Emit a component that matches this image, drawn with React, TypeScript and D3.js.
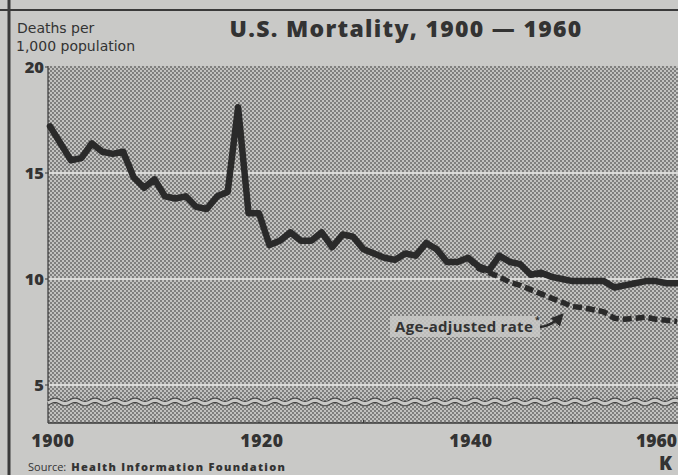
import React from 'react';
import * as d3 from 'd3';

const startYear = 1900;
const crudeRate = [
  17.2, 16.4, 15.6, 15.7, 16.4, 16.0, 15.9, 16.0, 14.8, 14.3,
  14.7, 13.9, 13.8, 13.9, 13.4, 13.3, 13.9, 14.1, 18.1, 13.1,
  13.1, 11.6, 11.8, 12.2, 11.8, 11.8, 12.2, 11.5, 12.1, 12.0,
  11.4, 11.2, 11.0, 10.9, 11.2, 11.1, 11.7, 11.4, 10.8, 10.8,
  11.0, 10.6, 10.4, 11.1, 10.8, 10.7, 10.2, 10.3, 10.1, 10.0,
  9.9, 9.9, 9.9, 9.9, 9.6, 9.7, 9.8, 9.9, 9.9, 9.8, 9.8,
];
const ageStartYear = 1940;
const ageAdjusted = [
  11.0, 10.5, 10.3, 10.1, 9.85, 9.7, 9.5, 9.3, 9.1, 8.9,
  8.7, 8.65, 8.55, 8.45, 8.15, 8.1, 8.15, 8.2, 8.1, 8.05, 8.0,
];
const yTickLabels = [20, 15, 10, 5];
const gridValues = [15, 10, 5];
const xTickLabels = [1900, 1920, 1940, 1960];
const minorXTicks = [1910, 1920, 1930, 1940, 1950];

const W = 678;
const H = 475;
const PAPER = '#c9c9c7';
const INK = '#2a2a2a';

export default function App() {
  const x = d3.scaleLinear().domain([1900, 1960]).range([50, 677]);
  const y = d3.scaleLinear().domain([5, 20]).range([385, 67]);
  const plotLeft = 48;
  const plotTop = y(20) - 1;
  const plotBottom = 423;
  const plotRight = W + 2;

  const crudePts: [number, number][] = crudeRate.map((v, i) => [startYear + i, v]);
  const agePts: [number, number][] = ageAdjusted.map((v, i) => [ageStartYear + i, v]);
  const line = d3
    .line<[number, number]>()
    .x((d) => x(d[0]))
    .y((d) => y(d[1]));

  // decorative axis-break wave
  const waveY = y(4.2);
  const wavePts = d3.range(plotLeft, plotRight + 1, 1);
  const wave = (off: number) =>
    d3
      .line<number>()
      .x((d) => d)
      .y((d) => waveY + off + 1.6 * Math.sin((d / 20) * 2 * Math.PI))(wavePts) as string;

  const fontSans = "'Open Sans', 'DejaVu Sans', sans-serif";
  const fontWide = "'DejaVu Sans', 'Open Sans', sans-serif";

  return (
    <svg
      width={W}
      height={H}
      style={{ position: 'absolute', left: 0, top: 0, background: PAPER }}
    >
      <defs>
        <pattern id="halftone" width="4" height="4" patternUnits="userSpaceOnUse">
          <rect width="4" height="4" fill="#c2c2c0" />
          <circle cx="1" cy="1" r="0.9" fill="#5e5e5e" />
          <circle cx="3" cy="3" r="0.9" fill="#5e5e5e" />
        </pattern>
        <marker id="arrowhead" viewBox="0 0 10 10" refX="8" refY="5" markerWidth="5" markerHeight="5" orient="auto">
          <path d="M0,0 L10,5 L0,10 z" fill={INK} />
        </marker>
      </defs>

      <rect width={W} height={H} fill={PAPER} />

      {/* frame lines */}
      <line x1={0} x2={W} y1={10} y2={10} stroke="#3a3a3a" strokeWidth={2} />
      <line x1={9} x2={9} y1={0} y2={H} stroke="#3a3a3a" strokeWidth={3} />

      {/* plot background */}
      <rect
        x={plotLeft}
        y={plotTop}
        width={plotRight - plotLeft}
        height={plotBottom - plotTop}
        fill="url(#halftone)"
      />
      <line x1={plotLeft} x2={plotLeft} y1={plotTop} y2={plotBottom} stroke="#3a3a3a" strokeWidth={1.2} />
      <line x1={plotLeft} x2={plotRight} y1={plotBottom} y2={plotBottom} stroke="#3a3a3a" strokeWidth={1.5} />

      {/* gridlines */}
      {gridValues.map((v) => (
        <line key={v} x1={plotLeft + 1} x2={plotRight} y1={y(v)} y2={y(v)} stroke="#dadad8" strokeWidth={2} />
      ))}

      {/* x minor ticks */}
      {minorXTicks.map((t) => (
        <line key={t} x1={x(t)} x2={x(t)} y1={plotBottom - 3} y2={plotBottom} stroke="#3a3a3a" strokeWidth={1} />
      ))}

      {/* axis break */}
      <path d={wave(0)} fill="none" stroke={PAPER} strokeWidth={4} />
      <path d={wave(-2.2)} fill="none" stroke="#444" strokeWidth={1.1} />
      <path d={wave(2.2)} fill="none" stroke="#444" strokeWidth={1.1} />

      {/* y labels */}
      {yTickLabels.map((v) => (
        <g key={v}>
          <text
            x={44}
            y={y(v) + 6}
            textAnchor="end"
            fontFamily={fontSans}
            fontWeight={800}
            fontSize={16.5}
            fill="#333"
          >
            {v}
          </text>
          <line x1={45} x2={plotLeft} y1={y(v)} y2={y(v)} stroke="#3a3a3a" strokeWidth={1} />
        </g>
      ))}

      {/* x labels */}
      {xTickLabels.map((t, i) => {
        const last = i === xTickLabels.length - 1;
        return (
          <text
            key={t}
            x={last ? W - 1 : x(t) + 3}
            y={447}
            textAnchor={last ? 'end' : 'middle'}
            fontFamily={fontSans}
            fontWeight={800}
            fontSize={17.5}
            letterSpacing={last ? 0 : 0.6}
            fill="#333"
          >
            {t}
          </text>
        );
      })}

      {/* data lines */}
      <path
        d={line(agePts) as string}
        fill="none"
        stroke={INK}
        strokeWidth={5.5}
        strokeDasharray="9 4"
        strokeLinejoin="round"
      />
      <path
        d={line(crudePts) as string}
        fill="none"
        stroke={INK}
        strokeWidth={6.5}
        strokeLinejoin="round"
        strokeLinecap="round"
      />

      {/* annotation */}
      <rect x={390} y={316} width={150} height={21} fill="#c8c8c6" opacity={0.85} />
      <text x={395} y={332} fontFamily={fontSans} fontWeight={700} fontSize={15} letterSpacing={0.3} fill="#333">
        Age-adjusted rate
      </text>
      <text x={535} y={323} fontFamily={fontSans} fontWeight={700} fontSize={9} fill="#333">
        *
      </text>
      <path
        d="M540,327 Q552,326 562,315"
        fill="none"
        stroke={INK}
        strokeWidth={2.5}
        markerEnd="url(#arrowhead)"
      />

      {/* titles */}
      <text x={17} y={33} fontFamily={fontWide} fontSize={14} fill="#333">
        Deaths per
      </text>
      <text x={16} y={51} fontFamily={fontWide} fontSize={14} fill="#333">
        1,000 population
      </text>
      <text
        x={406}
        y={37}
        textAnchor="middle"
        fontFamily={fontSans}
        fontWeight={800}
        fontSize={23}
        letterSpacing={1.3}
        fill="#333"
      >
        U.S. Mortality, 1900 — 1960
      </text>

      {/* source */}
      <text x={28} y={471} fontFamily={fontSans} fontSize={11} fill="#333">
        Source:
        <tspan dx={5} fontWeight={800} letterSpacing={1.3}>
          Health Information Foundation
        </tspan>
      </text>
      <text x={659} y={470} fontFamily={fontSans} fontWeight={800} fontSize={19} fill="#333">
        K
      </text>
    </svg>
  );
}
